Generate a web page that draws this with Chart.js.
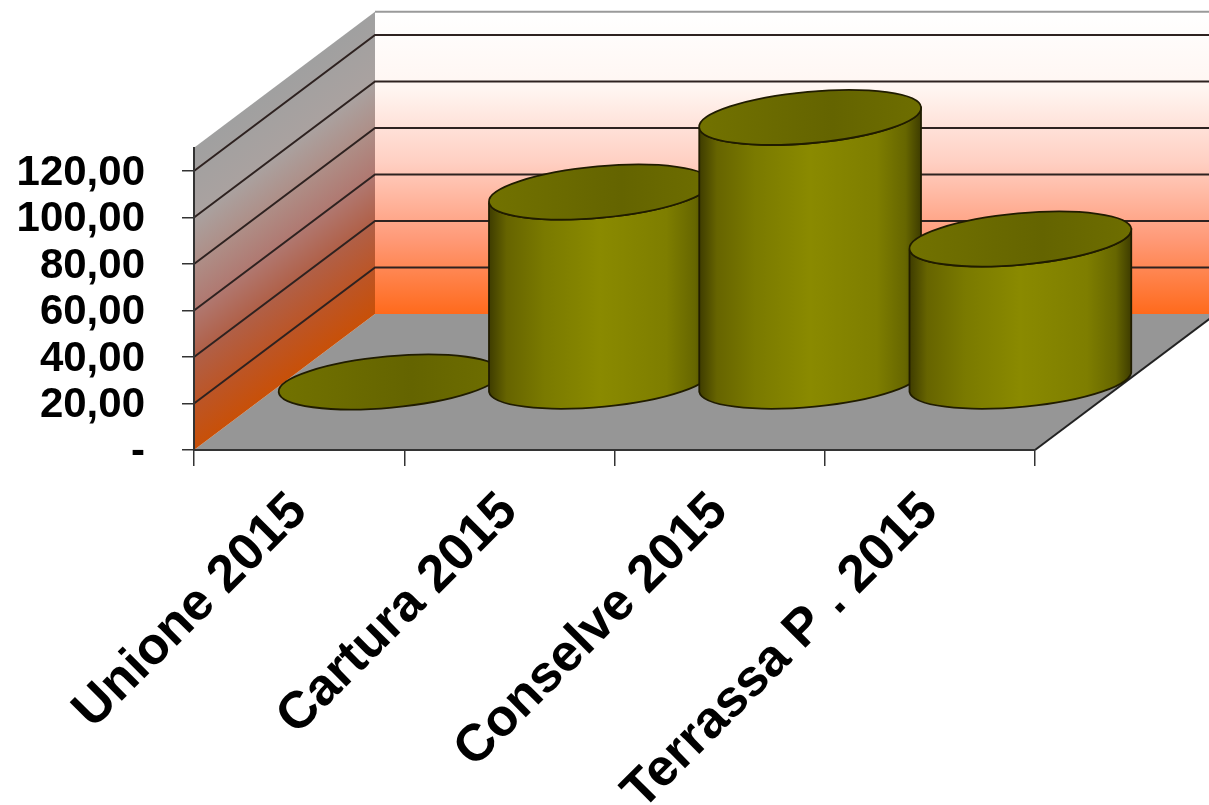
<!DOCTYPE html>
<html>
<head>
<meta charset="utf-8">
<style>
  html, body { margin: 0; padding: 0; background: #fff; }
  canvas { display: block; }
</style>
<script src="https://cdn.jsdelivr.net/npm/chart.js@4"></script>
</head>
<body>
<canvas id="chart" width="1209" height="805"></canvas>
<script>
const categories = ['Unione 2015', 'Cartura 2015', 'Conselve 2015', 'Terrassa P . 2015']
const values = [0, 81.7, 113.8, 61.5]
const tickValues = [0, 20, 40, 60, 80, 100, 120]
const tickLabels = ['-', '20,00', '40,00', '60,00', '80,00', '100,00', '120,00']

const depthX = 181
const depthY = -136
const radiusA = 111.4
const radiusB = 25.7
const tilt = -5.2 * Math.PI / 180

function drawWalls(chart){
    const ctx = chart.ctx
    const y = chart.scales.y
    const a = chart.chartArea

    ctx.save()

    // floor
    ctx.fillStyle = '#969696'
    ctx.beginPath()
    ctx.moveTo(a.left, a.bottom)
    ctx.lineTo(a.right, a.bottom)
    ctx.lineTo(a.right + depthX, a.bottom + depthY)
    ctx.lineTo(a.left + depthX, a.bottom + depthY)
    ctx.closePath()
    ctx.fill()

    // back wall
    let back = ctx.createLinearGradient(0, a.top + depthY, 0, a.bottom + depthY)
    back.addColorStop(0, '#ffffff')
    back.addColorStop(0.25, '#fff6f2')
    back.addColorStop(0.5, '#ffcfc2')
    back.addColorStop(0.75, '#ff9a78')
    back.addColorStop(1, '#ff6a1c')
    ctx.fillStyle = back
    ctx.fillRect(a.left + depthX, a.top + depthY, a.right - a.left, a.bottom - a.top)

    // side wall, the colour bands run along its slant
    let n = (depthX * depthX + depthY * depthY)
    let h = a.bottom - a.top
    let k = h * depthX / n
    let side = ctx.createLinearGradient(a.left, a.top, a.left - depthY * k, a.top + depthX * k)
    side.addColorStop(0, '#a0a0a0')
    side.addColorStop(0.23, '#aaa2a0')
    side.addColorStop(0.38, '#ae8f88')
    side.addColorStop(0.54, '#b07870')
    side.addColorStop(0.69, '#b06048')
    side.addColorStop(0.85, '#bc5526')
    side.addColorStop(1, '#c85008')
    ctx.fillStyle = side
    ctx.beginPath()
    ctx.moveTo(a.left, a.bottom)
    ctx.lineTo(a.left, a.top)
    ctx.lineTo(a.left + depthX, a.top + depthY)
    ctx.lineTo(a.left + depthX, a.bottom + depthY)
    ctx.closePath()
    ctx.fill()

    // grid lines across both walls
    ctx.strokeStyle = '#2e2220'
    ctx.lineWidth = 2
    tickValues.forEach(v => {
        if(v == 0) return
        let py = y.getPixelForValue(v)
        ctx.beginPath()
        ctx.moveTo(a.left, py)
        ctx.lineTo(a.left + depthX, py + depthY)
        ctx.lineTo(a.right + depthX, py + depthY)
        ctx.stroke()
    })

    // top edge of the walls
    ctx.strokeStyle = '#9a9a9a'
    ctx.beginPath()
    ctx.moveTo(a.left + depthX, a.top + depthY)
    ctx.lineTo(a.right + depthX, a.top + depthY)
    ctx.stroke()

    // right edge of the floor
    ctx.strokeStyle = '#222222'
    ctx.beginPath()
    ctx.moveTo(a.right, a.bottom)
    ctx.lineTo(a.right + depthX, a.bottom + depthY)
    ctx.stroke()

    ctx.restore()
}

function drawCylinder(ctx, cx, baseY, topY){
    let t0 = Math.atan2(radiusB * Math.sin(tilt), radiusA * Math.cos(tilt))
    let halfW = Math.sqrt(Math.pow(radiusA * Math.cos(tilt), 2) + Math.pow(radiusB * Math.sin(tilt), 2))

    ctx.lineWidth = 1.8
    ctx.strokeStyle = '#201c00'

    if(baseY - topY > 0.5){
        let body = ctx.createLinearGradient(cx - halfW, 0, cx + halfW, 0)
        body.addColorStop(0, '#3e3c00')
        body.addColorStop(0.08, '#666400')
        body.addColorStop(0.25, '#7a7a00')
        body.addColorStop(0.5, '#8a8a00')
        body.addColorStop(0.8, '#7e7e00')
        body.addColorStop(0.93, '#666600')
        body.addColorStop(1, '#3e3c00')
        ctx.fillStyle = body
        ctx.beginPath()
        ctx.ellipse(cx, baseY, radiusA, radiusB, tilt, t0, t0 + Math.PI)
        ctx.ellipse(cx, topY, radiusA, radiusB, tilt, t0 + Math.PI, t0 + 2 * Math.PI, true)
        ctx.closePath()
        ctx.fill()
        ctx.stroke()
    }

    let cap = ctx.createLinearGradient(cx - halfW, 0, cx + halfW, 0)
    cap.addColorStop(0, '#727200')
    cap.addColorStop(0.6, '#646400')
    cap.addColorStop(1, '#6e6e00')
    ctx.fillStyle = cap
    ctx.beginPath()
    ctx.ellipse(cx, topY, radiusA, radiusB, tilt, 0, 2 * Math.PI)
    ctx.fill()
    ctx.stroke()
}

const cylinders3d = {
    id: 'cylinders3d',
    beforeDraw(chart){
        drawWalls(chart)
    },
    afterDatasetsDraw(chart){
        const ctx = chart.ctx
        const meta = chart.getDatasetMeta(0)
        ctx.save()
        meta.data.forEach(bar => {
            drawCylinder(ctx, bar.x + depthX / 2, bar.base + depthY / 2, bar.y + depthY / 2)
        })
        ctx.restore()
    }
}

new Chart(document.getElementById('chart'), {
    type: 'bar',
    data: {
        labels: categories,
        datasets: [{
            data: values,
            backgroundColor: 'rgba(0,0,0,0)',
            borderWidth: 0
        }]
    },
    options: {
        responsive: false,
        animation: false,
        layout: { padding: { top: 147.75, right: 174, left: 0, bottom: 0 } },
        plugins: { legend: { display: false }, tooltip: { enabled: false } },
        scales: {
            x: {
                offset: true,
                grid: { offset: true, drawOnChartArea: false, tickLength: 16, color: '#333333', lineWidth: 1.5 },
                border: { color: '#333333', width: 2 },
                ticks: {
                    autoSkip: false,
                    minRotation: 45,
                    maxRotation: 45,
                    padding: 15,
                    color: '#000000',
                    font: { family: '"Liberation Sans", Arial, sans-serif', size: 52, weight: 'bold' }
                },
                afterFit(axis){ axis.height = 355 }
            },
            y: {
                min: 0,
                max: 130,
                grid: { drawOnChartArea: false, tickLength: 12, color: '#333333', lineWidth: 1.5 },
                border: { color: '#333333', width: 2 },
                afterBuildTicks(axis){ axis.ticks = tickValues.map(v => ({ value: v })) },
                ticks: {
                    autoSkip: false,
                    padding: 37,
                    labelOffset: 2,
                    color: '#000000',
                    font: { family: '"Liberation Sans", Arial, sans-serif', size: 42, weight: 'bold' },
                    callback(value){ return tickLabels[tickValues.indexOf(value)] }
                },
                afterFit(axis){ axis.width = 194 }
            }
        }
    },
    plugins: [cylinders3d]
})
</script>
</body>
</html>
